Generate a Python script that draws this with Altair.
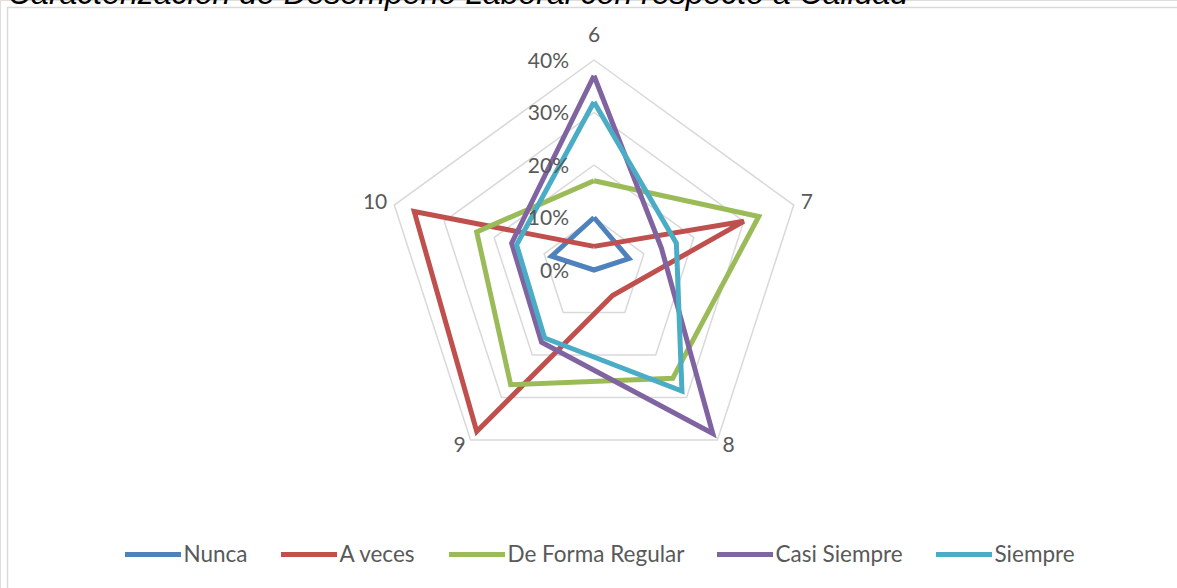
import altair as alt
import pandas as pd

# ---------------- data ----------------
categories = ["6", "7", "8", "9", "10"]
series_names = ["Nunca", "A veces", "De Forma Regular", "Casi Siempre", "Siempre"]
nunca = [0.10, 0.07, 0.0, 0.0, 0.085]
a_veces = [0.045, 0.30, 0.06, 0.38, 0.36]
de_forma_regular = [0.17, 0.33, 0.255, 0.27, 0.235]
casi_siempre = [0.37, 0.135, 0.385, 0.17, 0.165]
siempre = [0.32, 0.165, 0.285, 0.16, 0.155]
tick_values = [0.0, 0.1, 0.2, 0.3, 0.4]
tick_labels = ["0%", "10%", "20%", "30%", "40%"]
colors = ["#4F81BD", "#C0504D", "#9BBB59", "#8064A2", "#4BACC6"]
title_text = "Caracterización de Desempeño Laboral con respecto a Calidad"

series_values = [nunca, a_veces, de_forma_regular, casi_siempre, siempre]
n = len(categories)

# long table (closed polygons: first point repeated)
rows = []
for name, vals in zip(series_names, series_values):
    for i in range(n + 1):
        rows.append({"series": name, "idx": i, "cat": categories[i % n], "value": vals[i % n]})
df_series = pd.DataFrame(rows)

grid_rows = []
for lv in tick_values[1:]:
    for i in range(n + 1):
        grid_rows.append({"level": lv, "idx": i, "value": lv})
df_grid = pd.DataFrame(grid_rows)

df_ticks = pd.DataFrame({"value": tick_values, "label": tick_labels, "idx": [0] * len(tick_values)})
df_cats = pd.DataFrame({"cat": categories, "idx": list(range(n)), "value": [tick_values[-1]] * n})
df_title = pd.DataFrame({"t": [title_text]})

# ---------------- layout ----------------
W, H = 1177, 588
CX, CY = 594, 270
PX = 525.0  # pixels per 100%
xdom = [-CX / PX, (W - CX) / PX]
ydom = [-(H - CY) / PX, CY / PX]

ang = "PI/2 - datum.idx*2*PI/5"


def polar(ch):
    return ch.transform_calculate(
        px=f"datum.value*cos({ang})", py=f"datum.value*sin({ang})"
    )


X = alt.X("px:Q", scale=alt.Scale(domain=xdom, nice=False, zero=False), axis=None)
Y = alt.Y("py:Q", scale=alt.Scale(domain=ydom, nice=False, zero=False), axis=None)

grid = polar(alt.Chart(df_grid)).mark_line(
    color="#d9d9d9", strokeWidth=1.5
).encode(x=X, y=Y, detail="level:N", order="idx:Q")

lines = polar(alt.Chart(df_series)).mark_line(strokeWidth=5).encode(
    x=X,
    y=Y,
    order="idx:Q",
    color=alt.Color(
        "series:N",
        scale=alt.Scale(domain=series_names, range=colors),
        legend=alt.Legend(
            title=None,
            orient="none",
            legendX=122.5,
            legendY=524,
            direction="horizontal",
            symbolType="stroke",
            symbolSize=3136,
            symbolStrokeWidth=5,
            labelFont="Lato",
            labelFontSize=22.5,
            labelColor="#595959",
            labelOffset=0,
            labelLimit=1000,
            columnPadding=22,
            padding=0,
        ),
    ),
)

ticks = polar(alt.Chart(df_ticks)).mark_text(
    align="right", baseline="alphabetic", dx=-25, dy=7.5,
    font="Lato", fontSize=21, color="#595959"
).encode(x=X, y=Y, text="label:N")

# category labels: (index, align, dx, dy)
cat_specs = [(0, "center", 0, -18), (1, "left", 7, 4), (2, "left", 5, 12),
             (3, "right", -5, 12), (4, "right", -7, 4)]
cat_layers = []
for idx, al, ddx, ddy in cat_specs:
    cat_layers.append(
        polar(alt.Chart(df_cats)).transform_filter(f"datum.idx == {idx}").mark_text(
            align=al, baseline="alphabetic", dx=ddx, dy=ddy,
            font="Lato", fontSize=21, color="#595959"
        ).encode(x=X, y=Y, text="cat:N")
    )

title = alt.Chart(df_title).mark_text(
    align="left", baseline="alphabetic", font="Liberation Sans", fontSize=32,
    fontStyle="italic", color="#000000"
).encode(x=alt.value(8), y=alt.value(4), text="t:N")

border_top = alt.Chart(df_title).mark_rule(color="#d9d9d9", strokeWidth=1.5).encode(
    x=alt.value(7), x2=alt.value(W), y=alt.value(7.5)
)
border_left = alt.Chart(df_title).mark_rule(color="#d9d9d9", strokeWidth=1.5).encode(
    x=alt.value(7.5), y=alt.value(7), y2=alt.value(H)
)

chart = alt.layer(
    border_top, border_left, grid, lines, ticks, *cat_layers, title
).properties(
    width=W, height=H, padding=0, autosize=alt.AutoSizeParams(type="none")
).configure_view(strokeWidth=0).configure(background="#ffffff")

chart.save("out.html", embed_options={"renderer": "svg", "actions": False})
